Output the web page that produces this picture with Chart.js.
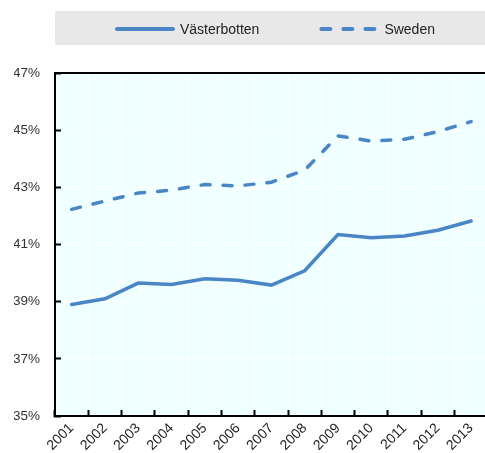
<!DOCTYPE html>
<html>
<head>
<meta charset="utf-8">
<script src="https://cdn.jsdelivr.net/npm/chart.js@4"></script>
<style>
  html, body { margin: 0; padding: 0; background: #fff; overflow: hidden; }
  #wrap { width: 493px; height: 453px; position: relative; }
</style>
</head>
<body>
<div id="wrap"><canvas id="canvas"></canvas></div>
<script>
var years = ['2001', '2002', '2003', '2004', '2005', '2006', '2007', '2008', '2009', '2010', '2011', '2012', '2013'];
var vasterbotten = [38.9, 39.1, 39.65, 39.6, 39.8, 39.75, 39.58, 40.08, 41.35, 41.24, 41.3, 41.5, 41.82];
var sweden = [42.23, 42.52, 42.8, 42.9, 43.1, 43.05, 43.18, 43.6, 44.8, 44.62, 44.68, 44.95, 45.3];
var yTicks = [35, 37, 39, 41, 43, 45, 47];

var blue = '#4a86c6';

// plot background, top border and the grey legend strip
var decor = {
  id: 'decor',
  beforeDraw: function(chart) {
    var ctx = chart.ctx, a = chart.chartArea;
    ctx.save();
    ctx.fillStyle = '#f0ffff';
    ctx.fillRect(a.left, a.top, a.right - a.left, a.bottom - a.top);
    ctx.restore();
  },
  afterDraw: function(chart) {
    var ctx = chart.ctx, a = chart.chartArea;
    ctx.save();
    ctx.strokeStyle = '#000';
    ctx.lineWidth = 2;
    ctx.beginPath();
    ctx.moveTo(a.left - 1, a.top);
    ctx.lineTo(a.right, a.top);
    ctx.stroke();

    // legend
    ctx.fillStyle = '#e8e8e8';
    ctx.fillRect(a.left, 11, chart.width - a.left, 34);
    ctx.font = '14px "Liberation Sans", Arial, sans-serif';
    ctx.textBaseline = 'middle';
    var lineLen = 60, gap = 5, between = 60;
    var ds = chart.data.datasets;
    var total = 0;
    ds.forEach(function(d, i) {
      total += lineLen + gap + ctx.measureText(d.label).width + (i ? 0 : between);
    });
    var x = 115;
    var y = 29;
    ds.forEach(function(d) {
      ctx.strokeStyle = d.borderColor;
      ctx.lineWidth = 4;
      ctx.lineCap = 'round';
      ctx.setLineDash(d.borderDash || []);
      ctx.beginPath();
      ctx.moveTo(x + 2, y);
      ctx.lineTo(x + lineLen - 2, y);
      ctx.stroke();
      ctx.setLineDash([]);
      ctx.fillStyle = '#222';
      ctx.fillText(d.label, x + lineLen + gap, y + 1);
      x += lineLen + gap + ctx.measureText(d.label).width + between;
    });
    ctx.restore();
  }
};

window.onload = function() {
  var ctx = document.getElementById('canvas').getContext('2d');
  window.myLine = new Chart(ctx, {
    type: 'line',
    data: {
      labels: years,
      datasets: [{
        label: 'Västerbotten',
        data: vasterbotten,
        borderColor: blue,
        borderWidth: 3.5,
        pointRadius: 0,
        tension: 0,
        borderCapStyle: 'round'
      }, {
        label: 'Sweden',
        data: sweden,
        borderColor: blue,
        borderWidth: 3.5,
        borderDash: [9, 13],
        borderCapStyle: 'round',
        pointRadius: 0,
        tension: 0
      }]
    },
    options: {
      responsive: true,
      maintainAspectRatio: false,
      animation: false,
      devicePixelRatio: 1,
      layout: {
        padding: { top: 73, left: 14, right: 0, bottom: 0 }
      },
      plugins: {
        legend: { display: false },
        tooltip: { enabled: false }
      },
      scales: {
        x: {
          offset: true,
          afterFit: function(scale) { scale.height = 37; },
          grid: {
            offset: true,
            color: '#ffffff',
            lineWidth: 1,
            tickColor: '#000',
            tickLength: -6,
            tickWidth: 2
          },
          border: { color: '#000', width: 2 },
          ticks: {
            autoSkip: false,
            minRotation: 45,
            maxRotation: 45,
            padding: 10,
            color: '#222',
            font: { family: '"Liberation Sans", Arial, sans-serif', size: 14 }
          }
        },
        y: {
          min: 35,
          max: 47,
          afterFit: function(scale) { scale.width = 41; },
          afterBuildTicks: function(scale) {
            scale.ticks = yTicks.map(function(v) { return { value: v }; });
          },
          grid: {
            color: '#ffffff',
            lineWidth: 1,
            tickColor: '#000',
            tickLength: -6,
            tickWidth: 2
          },
          border: { color: '#000', width: 2 },
          ticks: {
            padding: 21,
            color: '#333',
            font: { family: '"Liberation Sans", Arial, sans-serif', size: 13.5 },
            callback: function(v) { return v + '%'; }
          }
        }
      }
    },
    plugins: [decor]
  });
};
</script>
</body>
</html>
